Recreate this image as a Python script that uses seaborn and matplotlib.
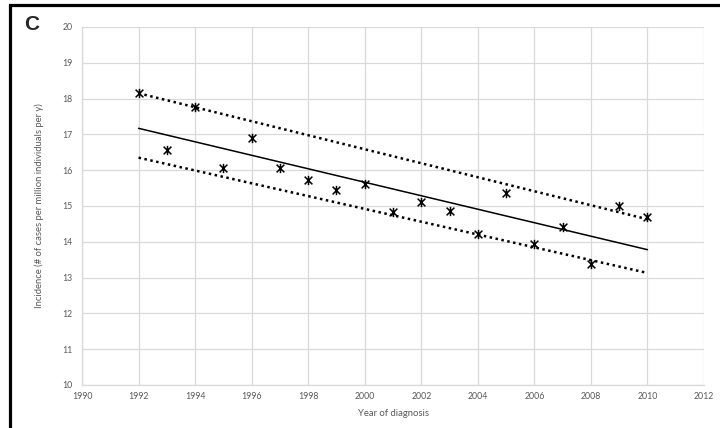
import matplotlib.pyplot as plt
import matplotlib.patches as patches
import pandas as pd
import seaborn as sns
from matplotlib.path import Path

# observed incidence per year
years = [1992, 1993, 1994, 1995, 1996, 1997, 1998, 1999, 2000, 2001,
         2002, 2003, 2004, 2005, 2006, 2007, 2008, 2009, 2010]
incidence = [18.15, 16.56, 17.76, 16.06, 16.90, 16.06, 15.74, 15.46, 15.62, 14.82,
             15.11, 14.85, 14.22, 15.36, 13.94, 14.42, 13.37, 15.01, 14.69]

# fitted trend and bounds (end points)
line_years = [1992, 2010]
trend = [17.17, 13.78]
upper = [18.15, 14.63]
lower = [16.35, 13.13]

x_ticks = list(range(1990, 2013, 2))
y_ticks = list(range(10, 21))

grey = "#595959"
grid = "#d9d9d9"

sns.set_theme(style="whitegrid")
plt.rcParams["font.family"] = ["Lato", "DejaVu Sans"]

df = pd.DataFrame({"Year": years, "Incidence": incidence})
lines_df = pd.DataFrame({"Year": line_years, "trend": trend,
                         "upper": upper, "lower": lower})

# excel style star marker: X with a vertical bar
star = Path(
    [(-1, -1), (1, 1), (-1, 1), (1, -1), (0, -1.2), (0, 1.2)],
    [Path.MOVETO, Path.LINETO, Path.MOVETO, Path.LINETO, Path.MOVETO, Path.LINETO],
)

fig = plt.figure(figsize=(7.2, 4.28), dpi=100)
ax = fig.add_axes([82 / 720, 43 / 428, 622 / 720, 358 / 428])

sns.lineplot(data=lines_df, x="Year", y="trend", color="black",
             linewidth=1.1, ax=ax)
sns.lineplot(data=lines_df, x="Year", y="upper", color="black",
             linewidth=1.8, linestyle=(0, (1, 1.4)), ax=ax)
sns.lineplot(data=lines_df, x="Year", y="lower", color="black",
             linewidth=1.8, linestyle=(0, (1, 1.4)), ax=ax)
sns.scatterplot(data=df, x="Year", y="Incidence", marker=star, s=45,
                color="black", edgecolor="black", linewidth=1.1, ax=ax, zorder=5)

ax.set_xlim(1990, 2012)
ax.set_ylim(10, 20)
ax.set_xticks(x_ticks)
ax.set_yticks(y_ticks)
ax.grid(True, color=grid, linewidth=0.9)
for side in ["top", "right"]:
    ax.spines[side].set_visible(False)
for side in ["left", "bottom"]:
    ax.spines[side].set_color(grid)
    ax.spines[side].set_linewidth(0.9)

ax.tick_params(axis="both", labelsize=6.3, colors=grey, length=0)
ax.tick_params(axis="y", pad=7)
ax.tick_params(axis="x", pad=5)

ax.set_xlabel("Year of diagnosis", fontsize=6.8, color=grey, labelpad=6)
ax.set_ylabel("Incidence (# of cases per million individuals per y)",
              fontsize=6.8, color=grey, labelpad=13)

fig.text(24 / 720, 1 - 25 / 428, "C", fontsize=15, fontweight="bold",
         family="Liberation Sans", ha="left", va="center")

# panel frame (runs off the right and bottom edges)
fig.patches.append(patches.Rectangle(
    (9.5 / 720, -0.05), 1.2, 1 - 4.5 / 428 + 0.05, transform=fig.transFigure,
    fill=False, edgecolor="black", linewidth=2.3))

fig.savefig("out.png", dpi=100)
plt.close(fig)
